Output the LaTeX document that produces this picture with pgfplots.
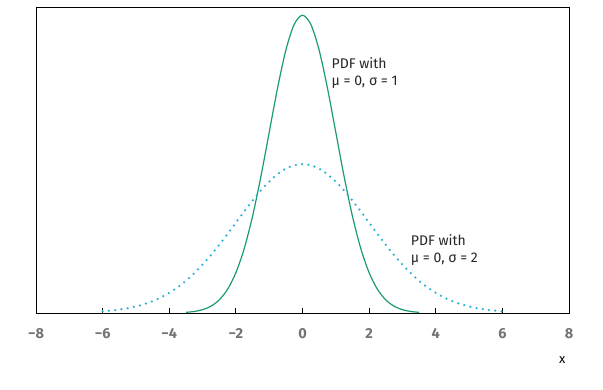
\documentclass[border=0pt]{standalone}
\usepackage{fontspec}
\setmainfont{Fira Sans}
\usepackage{pgfplots}
\pgfplotsset{compat=1.18}
\definecolor{curveA}{HTML}{1B9A73}
\definecolor{curveB}{HTML}{2AB2D6}
\definecolor{tickgray}{HTML}{737373}
\begin{document}
\begin{tikzpicture}[x=1pt,y=1pt]
\path[use as bounding box] (-36pt,-76pt) rectangle (567pt,313pt);
\begin{axis}[
  at={(0pt,0pt)}, anchor=south west,
  scale only axis, width=533pt, height=306pt,
  xmin=-8, xmax=8, ymin=0, ymax=0.41,
  xtick={-8,-6,...,8}, ytick=\empty,
  xticklabels={−8,−6,−4,−2,0,2,4,6,8},
  xtick pos=bottom, tick align=inside,
  major tick length=5pt,
  axis line style={line width=0.9pt},
  tick style={line width=0.8pt, black},
  xticklabel style={font=\fontsize{14.5}{16}\selectfont\bfseries, text=tickgray, yshift=-12pt},
  xlabel={x}, xlabel style={at={(rel axis cs:1,0)}, anchor=north east, yshift=-40pt, font=\fontsize{13}{15}\selectfont},
  clip=false,
]
\addplot[curveA, line width=1.2pt, smooth] table {
-3.5 0.00087
-3.25 0.00203
-3.0 0.00443
-2.75 0.00909
-2.5 0.01753
-2.25 0.03174
-2.0 0.05399
-1.75 0.08628
-1.5 0.12952
-1.25 0.18265
-1.0 0.24197
-0.75 0.30114
-0.5 0.35207
-0.25 0.38667
0 0.39894
0.25 0.38667
0.5 0.35207
0.75 0.30114
1.0 0.24197
1.25 0.18265
1.5 0.12952
1.75 0.08628
2.0 0.05399
2.25 0.03174
2.5 0.01753
2.75 0.00909
3.0 0.00443
3.25 0.00203
3.5 0.00087
};
\addplot[curveB, line width=2.5pt, line cap=round, dash pattern=on 0pt off 6.3pt, smooth] table {
-6.0 0.00222
-5.75 0.00320
-5.5 0.00455
-5.25 0.00636
-5.0 0.00876
-4.75 0.01189
-4.5 0.01587
-4.25 0.02087
-4.0 0.02700
-3.75 0.03439
-3.5 0.04314
-3.25 0.05327
-3.0 0.06476
-2.75 0.07751
-2.5 0.09132
-2.25 0.10594
-2.0 0.12098
-1.75 0.13603
-1.5 0.15057
-1.25 0.16408
-1.0 0.17603
-0.75 0.18593
-0.5 0.19334
-0.25 0.19792
0 0.19947
0.25 0.19792
0.5 0.19334
0.75 0.18593
1.0 0.17603
1.25 0.16408
1.5 0.15057
1.75 0.13603
2.0 0.12098
2.25 0.10594
2.5 0.09132
2.75 0.07751
3.0 0.06476
3.25 0.05327
3.5 0.04314
3.75 0.03439
4.0 0.02700
4.25 0.02087
4.5 0.01587
4.75 0.01189
5.0 0.00876
5.25 0.00636
5.5 0.00455
5.75 0.00320
6.0 0.00222
};
\node[anchor=west, align=left, font=\fontsize{14}{17}\selectfont, text=black!85, inner sep=0pt] at (axis cs:0.87,0.322) {PDF with\\μ = 0, σ = 1};
\node[anchor=west, align=left, font=\fontsize{14}{17}\selectfont, text=black!85, inner sep=0pt] at (axis cs:3.25,0.085) {PDF with\\μ = 0, σ = 2};
\end{axis}
\end{tikzpicture}
\end{document}
